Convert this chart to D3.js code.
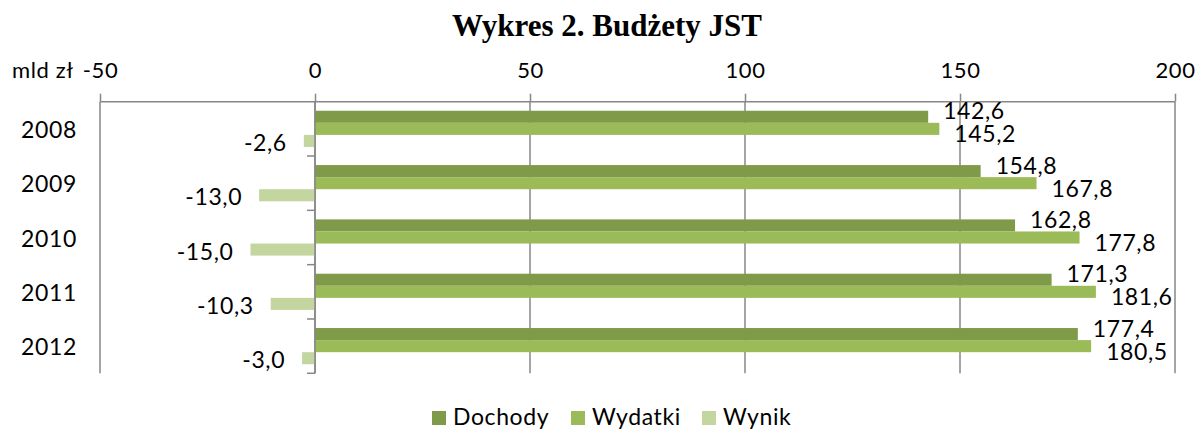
<!DOCTYPE html>
<html><head><meta charset="utf-8">
<script src="https://cdn.jsdelivr.net/npm/d3@7"></script>
<style>
html,body{margin:0;padding:0;background:#fff;}
svg{display:block;}
</style>
</head><body>
<svg id="chart" width="1201" height="430"></svg>
<script>
const years = ['2008','2009','2010','2011','2012'];
const seriesNames = ['Dochody','Wydatki','Wynik'];
const dochody = [142.6,154.8,162.8,171.3,177.4];
const wydatki = [145.2,167.8,177.8,181.6,180.5];
const wynik = [-2.6,-13.0,-15.0,-10.3,-3.0];
const xTicks = [-50,0,50,100,150,200];
const colors = ['#7F9A48','#9BBB59','#C4D6A0'];

const svg = d3.select('#chart');
const FONT = 'Lato, "Open Sans", sans-serif';
const LS = 0.6;
const x = d3.scaleLinear().domain([-50,200]).range([100,1175]);
const y = d3.scaleBand().domain(years).range([101.7,373.3]).padding(0);
const yi = d3.scaleBand().domain(seriesNames).range([0,y.bandwidth()]).paddingInner(0).paddingOuter(0.75);
const fmt = v => d3.format('.1f')(v).replace('.',',').replace('\u2212','-');
const gridColor = '#878787';

// title
svg.append('text').attr('x',607).attr('y',36).attr('text-anchor','middle')
  .attr('font-family','"Liberation Serif", "Times New Roman", serif').attr('font-weight','bold')
  .attr('font-size',31).attr('fill','#000').text('Wykres 2. Budżety JST');

// unit label
svg.append('text').attr('x',12).attr('y',78).attr('font-family',FONT).attr('font-size',22)
  .attr('letter-spacing',LS).attr('fill','#000').text('mld zł');

// gridlines
const [y0,y1] = y.range();
svg.append('g').selectAll('line').data(xTicks).join('line')
  .attr('x1',d=>x(d)).attr('x2',d=>x(d)).attr('y1',y0).attr('y2',y1)
  .attr('stroke',gridColor).attr('stroke-width',1.5);

// top axis
const gx = svg.append('g').attr('transform',`translate(0,${y0})`)
  .call(d3.axisTop(x).tickValues(xTicks).tickSize(8).tickPadding(16).tickFormat(d=>String(d)));
gx.select('.domain').attr('stroke',gridColor).attr('stroke-width',1.5).attr('d',`M${x(-50)},0H${x(200)}`);
gx.selectAll('.tick line').attr('stroke',gridColor).attr('stroke-width',1.5);
gx.selectAll('.tick text').attr('font-family',FONT).attr('font-size',22).attr('letter-spacing',LS).attr('fill','#000');

// bars
const rows = years.map((yr,i)=>({yr, vals:[dochody[i],wydatki[i],wynik[i]]}));
const gBars = svg.append('g');
rows.forEach(r=>{
  gBars.selectAll(null).data(r.vals.map((v,k)=>({v,k,name:seriesNames[k],yr:r.yr}))).join('rect')
    .attr('x',d=>x(Math.min(0,d.v)))
    .attr('width',d=>Math.abs(x(d.v)-x(0)))
    .attr('y',d=>y(d.yr)+yi(d.name))
    .attr('height',yi.bandwidth())
    .attr('fill',d=>colors[d.k]);
});

// vertical axis at 0
const gy = svg.append('g');
gy.append('line').attr('x1',x(0)).attr('x2',x(0)).attr('y1',y0).attr('y2',y1)
  .attr('stroke',gridColor).attr('stroke-width',1.5);
const bounds = years.map(d=>y(d)).concat([y1]);
gy.selectAll('line.tk').data(bounds.slice(1)).join('line').attr('class','tk')
  .attr('x1',x(0)-8).attr('x2',x(0)).attr('y1',d=>d).attr('y2',d=>d)
  .attr('stroke',gridColor).attr('stroke-width',1.5);

// year labels
svg.append('g').selectAll('text').data(years).join('text')
  .attr('x',49).attr('y',d=>y(d)+y.bandwidth()/2+1).attr('dy','0.35em')
  .attr('text-anchor','middle').attr('font-family',FONT).attr('font-size',23).attr('letter-spacing',LS).attr('fill','#000')
  .text(d=>d);

// data labels
const gL = svg.append('g').attr('font-family',FONT).attr('font-size',23).attr('letter-spacing',LS).attr('fill','#000');
rows.forEach(r=>{
  const boundary = y(r.yr)+yi('Wydatki');
  gL.append('text').attr('x',x(r.vals[0])+15).attr('y',boundary-11.5).attr('dy','0.35em').text(fmt(r.vals[0]));
  gL.append('text').attr('x',x(r.vals[1])+15).attr('y',boundary+11.5).attr('dy','0.35em').text(fmt(r.vals[1]));
  gL.append('text').attr('x',x(r.vals[2])-17).attr('y',y(r.yr)+yi('Wynik')+yi.bandwidth()/2+2)
    .attr('dy','0.35em').attr('text-anchor','end').text(fmt(r.vals[2]));
});

// legend
const legX = [432,571,702];
const lg = svg.append('g');
seriesNames.forEach((n,i)=>{
  lg.append('rect').attr('x',legX[i]).attr('y',411).attr('width',14).attr('height',14).attr('fill',colors[i]);
  lg.append('text').attr('x',legX[i]+21).attr('y',425).attr('font-family',FONT).attr('font-size',23)
    .attr('letter-spacing',LS).attr('fill','#000').text(n);
});
</script>
</body></html>
